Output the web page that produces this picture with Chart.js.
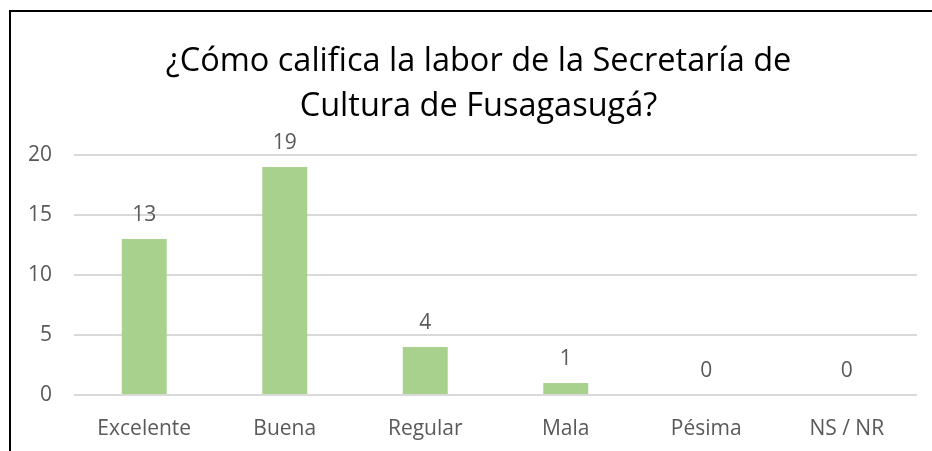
<!DOCTYPE html>
<html>
<head>
<meta charset="utf-8" />
<title>Secretaría de Cultura de Fusagasugá</title>
<script src="https://cdn.jsdelivr.net/npm/chart.js"></script>
<style>
    html, body { margin: 0; padding: 0; background: white; }
    #wrap { position: relative; width: 932px; height: 451px; overflow: hidden; }
    #frame {
        position: absolute;
        left: 9px;
        top: 10px;
        width: 2000px;
        height: 2000px;
        border: 2px solid #000;
        box-sizing: border-box;
    }
    #chart { position: absolute; left: 0; top: 0; }
</style>
</head>
<body>
<div id="wrap">
    <div id="frame"></div>
    <canvas id="chart" width="932" height="451"></canvas>
</div>

<script>
const categories = ['Excelente', 'Buena', 'Regular', 'Mala', 'Pésima', 'NS / NR'];
const values = [13, 19, 4, 1, 0, 0];
const titleLines = ['¿Cómo califica la labor de la Secretaría de', 'Cultura de Fusagasugá?'];
const yTicks = [0, 5, 10, 15, 20];

const fontName = "'Open Sans', 'Noto Sans', sans-serif";
const grey = '#595959';

// numbers above each bar, like the Excel data labels
const barLabels = {
    id: 'barLabels',
    afterDatasetsDraw(chart) {
        const ctx = chart.ctx;
        const meta = chart.getDatasetMeta(0);
        ctx.save();
        ctx.font = '21px ' + fontName;
        ctx.fillStyle = grey;
        ctx.textAlign = 'center';
        ctx.textBaseline = 'middle';
        meta.data.forEach((bar, i) => {
            ctx.fillText(String(values[i]), bar.x, bar.y - 24);
        });
        ctx.restore();
    }
};

// excel centres the title over the whole chart box, which is a bit right of ours
const titleShift = {
    id: 'titleShift',
    afterLayout(chart) {
        if (chart.titleBlock) {
            chart.titleBlock.left += 20;
            chart.titleBlock.right += 20;
        }
    }
};

new Chart(document.getElementById('chart'), {
    type: 'bar',
    data: {
        labels: categories,
        datasets: [{
            data: values,
            backgroundColor: '#A9D18E',
            borderWidth: 0,
            barPercentage: 0.32,
            categoryPercentage: 1
        }]
    },
    plugins: [barLabels, titleShift],
    options: {
        responsive: false,
        animation: false,
        layout: { padding: { left: 0, right: 15, top: 0, bottom: 0 } },
        plugins: {
            legend: { display: false },
            tooltip: { enabled: false },
            title: {
                display: true,
                text: titleLines,
                color: '#000',
                font: { family: fontName, size: 32.5, weight: 'normal', lineHeight: 45 / 32.5 },
                padding: { top: 39, bottom: 26 }
            }
        },
        scales: {
            x: {
                afterFit(scale) { scale.height = 56; },
                grid: { display: false },
                border: { display: false },
                ticks: { color: grey, padding: 13, font: { family: fontName, size: 21 } }
            },
            y: {
                min: 0,
                max: 20,
                afterBuildTicks(scale) { scale.ticks = yTicks.map(v => ({ value: v })); },
                afterFit(scale) { scale.width = 74; },
                grid: { color: '#D9D9D9', lineWidth: 2, drawTicks: false },
                border: { display: false },
                ticks: { color: grey, padding: 22, font: { family: fontName, size: 21 } }
            }
        }
    }
});
</script>
</body>
</html>
